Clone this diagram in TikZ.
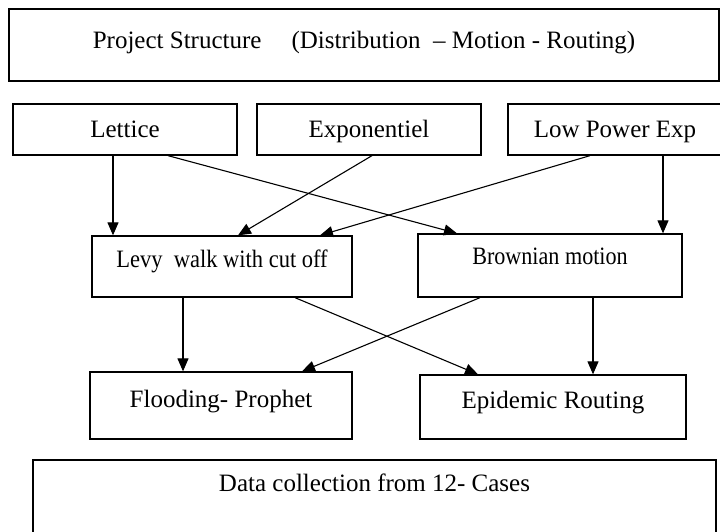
\documentclass[tikz,border=0pt]{standalone}
\usepackage{fontspec}
\setmainfont{Liberation Serif}
\usetikzlibrary{arrows.meta}

\begin{document}
\begin{tikzpicture}[x=1pt, y=-1pt, >={Triangle[length=13pt,width=11pt]},
  font=\fontsize{25}{30}\selectfont,
  box/.style={draw, line width=1.3pt, inner sep=2pt, text height=18pt, text depth=#1},
  box/.default=1.5pt,
  link/.style={->, line width=1.1pt}]
  \useasboundingbox (0,0) rectangle (720,532);
  % ============= title =============
  \node[box=11pt, minimum width=710pt, minimum height=72pt] (title) at (364,45)
    {Project Structure\hspace{30pt}(Distribution\ \ – Motion - Routing)};
  % ============= Row 1: distributions =============
  \node[box, minimum width=224pt, minimum height=51pt] (lettice) at (125,129.5) {Lettice};
  \node[box, minimum width=224pt, minimum height=51pt] (expo)    at (369,129.5) {Exponentiel};
  \node[box, minimum width=214pt, minimum height=51pt] (lowpow)  at (615,129.5) {Low Power Exp};
  % ============= Row 2: motion (text set narrower) =============
  \node[box=17pt, minimum width=260pt, minimum height=61pt] (levy)     at (222,266.5)
    {\scalebox{0.9}[1]{Levy\ \ walk with cut off}};
  \node[box=20pt, minimum width=264pt, minimum height=63pt] (brownian) at (550,265.5)
    {\scalebox{0.885}[1]{Brownian motion}};
  % ============= Row 3: routing =============
  \node[box=15pt, minimum width=262pt, minimum height=67pt] (flooding) at (221,405.5) {Flooding- Prophet};
  \node[box=15pt, minimum width=266pt, minimum height=64pt] (epidemic) at (553,407)   {Epidemic Routing};
  % --- data collection (runs off the bottom edge) ---
  \node[box=40pt, minimum width=683pt, minimum height=85pt] (data) at (374.5,502.5) {Data collection from 12- Cases};
  % --- distribution -> motion ---
  \draw[link] ([xshift=-12pt]lettice.south) -- ([xshift=-12pt]lettice.south |- levy.north);
  \draw[link] ([xshift=43pt]lettice.south) -- ([xshift=-93pt]brownian.north);
  \draw[link] ([xshift=3pt]expo.south) -- ([xshift=16pt]levy.north);
  \draw[link] ([xshift=-25pt]lowpow.south) -- ([xshift=98pt]levy.north);
  \draw[link] ([xshift=48pt]lowpow.south) -- ([xshift=48pt]lowpow.south |- brownian.north);
  % --- motion -> routing ---
  \draw[link] ([xshift=-39pt]levy.south) -- ([xshift=-39pt]levy.south |- flooding.north);
  \draw[link] ([xshift=73pt]levy.south) -- ([xshift=-75pt]epidemic.north);
  \draw[link] ([xshift=-70pt]brownian.south) -- ([xshift=81pt]flooding.north);
  \draw[link] ([xshift=43pt]brownian.south) -- ([xshift=43pt]brownian.south |- epidemic.north);
\end{tikzpicture}
\end{document}
